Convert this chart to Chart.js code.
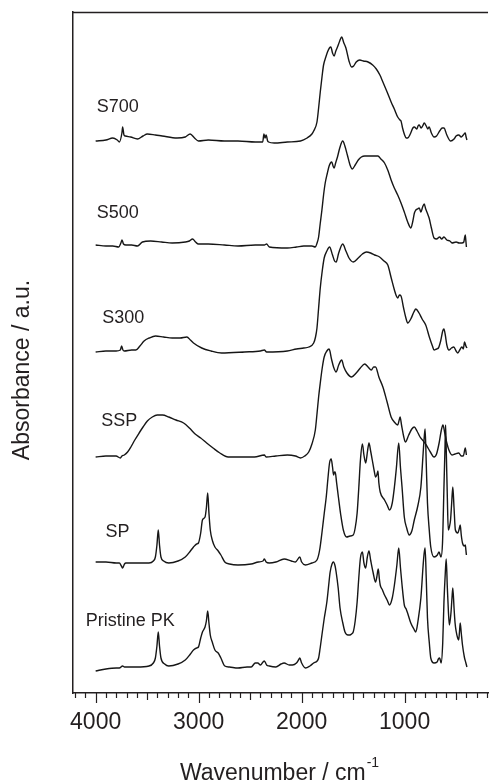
<!DOCTYPE html>
<html>
<head>
<meta charset="utf-8">
<script src="https://cdn.jsdelivr.net/npm/chart.js@4.4.1/dist/chart.umd.min.js"></script>
<style>
  body { margin: 0; background: #fff; }
  canvas { display: block; }
</style>
</head>
<body>
<canvas id="myChart" width="493" height="782"></canvas>
<script>
// FTIR spectra, stacked (absorbance a.u. incl. offset), wavenumber in cm-1
const s700 = [[4000,5.52],[3900,5.53],[3834,5.55],[3790,5.53],[3770,5.51],[3745,5.60],[3738,5.66],[3725,5.58],[3712,5.57],[3660,5.56],[3594,5.54],[3540,5.57],[3498,5.59],[3420,5.58],[3354,5.57],[3210,5.55],[3130,5.56],[3082,5.59],[3040,5.55],[3002,5.52],[2906,5.53],[2750,5.52],[2618,5.52],[2450,5.51],[2378,5.51],[2366,5.59],[2355,5.55],[2345,5.58],[2330,5.52],[2321,5.51],[2266,5.50],[2139,5.51],[2011,5.52],[1947,5.55],[1900,5.59],[1883,5.62],[1851,5.71],[1835,5.85],[1819,6.01],[1800,6.18],[1787,6.28],[1765,6.36],[1749,6.41],[1730,6.45],[1716,6.46],[1700,6.40],[1684,6.37],[1668,6.42],[1652,6.46],[1630,6.52],[1611,6.56],[1590,6.50],[1570,6.45],[1540,6.32],[1515,6.26],[1495,6.27],[1470,6.31],[1435,6.33],[1400,6.32],[1355,6.31],[1310,6.28],[1275,6.24],[1240,6.18],[1211,6.11],[1170,6.01],[1131,5.91],[1100,5.84],[1067,5.76],[1045,5.73],[1035,5.72],[1020,5.65],[1000,5.58],[985,5.55],[970,5.55],[945,5.59],[920,5.65],[906,5.66],[880,5.64],[870,5.67],[858,5.68],[840,5.65],[825,5.67],[810,5.70],[790,5.67],[775,5.64],[762,5.66],[740,5.60],[714,5.56],[690,5.57],[660,5.62],[635,5.65],[618,5.65],[590,5.58],[553,5.52],[520,5.54],[500,5.57],[474,5.58],[450,5.56],[430,5.58],[411,5.60],[405,5.57],[395,5.53]];

const s500 = [[4000,4.48],[3900,4.47],[3834,4.47],[3776,4.46],[3755,4.50],[3744,4.53],[3730,4.49],[3706,4.48],[3650,4.48],[3594,4.47],[3546,4.51],[3466,4.52],[3360,4.51],[3257,4.50],[3129,4.51],[3090,4.52],[3059,4.54],[3030,4.51],[3002,4.49],[2906,4.49],[2750,4.48],[2618,4.47],[2450,4.48],[2362,4.48],[2340,4.49],[2314,4.46],[2139,4.45],[2050,4.46],[1979,4.47],[1900,4.47],[1867,4.46],[1850,4.50],[1835,4.56],[1820,4.69],[1803,4.83],[1787,4.98],[1771,5.10],[1750,5.20],[1733,5.27],[1720,5.30],[1707,5.31],[1695,5.27],[1684,5.25],[1670,5.30],[1652,5.36],[1630,5.45],[1601,5.52],[1580,5.47],[1556,5.38],[1530,5.28],[1508,5.24],[1480,5.28],[1450,5.33],[1420,5.36],[1387,5.37],[1320,5.37],[1259,5.37],[1230,5.34],[1195,5.30],[1160,5.22],[1131,5.13],[1100,5.05],[1067,4.98],[1035,4.90],[1003,4.81],[970,4.71],[939,4.65],[920,4.72],[905,4.80],[891,4.83],[875,4.84],[858,4.85],[842,4.81],[825,4.86],[810,4.89],[795,4.84],[780,4.80],[762,4.75],[740,4.65],[714,4.55],[690,4.54],[660,4.56],[640,4.54],[618,4.56],[590,4.53],[560,4.52],[540,4.50],[500,4.51],[470,4.50],[444,4.50],[425,4.51],[418,4.55],[411,4.58],[405,4.52],[400,4.46]];

const s300 = [[4000,3.41],[3900,3.42],[3802,3.42],[3760,3.43],[3748,3.47],[3735,3.43],[3722,3.42],[3650,3.43],[3610,3.43],[3570,3.47],[3530,3.52],[3480,3.55],[3418,3.57],[3340,3.56],[3257,3.55],[3180,3.55],[3114,3.56],[3080,3.53],[3050,3.50],[2970,3.45],[2880,3.42],[2778,3.40],[2554,3.41],[2400,3.42],[2362,3.43],[2340,3.41],[2139,3.42],[2050,3.44],[1979,3.45],[1930,3.46],[1883,3.50],[1865,3.56],[1851,3.65],[1835,3.85],[1819,4.05],[1800,4.22],[1781,4.35],[1755,4.42],[1729,4.46],[1700,4.38],[1680,4.32],[1665,4.31],[1640,4.40],[1601,4.49],[1570,4.42],[1540,4.35],[1499,4.31],[1450,4.35],[1410,4.39],[1371,4.41],[1330,4.40],[1291,4.38],[1243,4.36],[1200,4.32],[1163,4.28],[1130,4.15],[1099,4.03],[1080,3.97],[1067,3.95],[1050,3.98],[1035,3.97],[1010,3.85],[990,3.76],[970,3.70],[940,3.74],[910,3.81],[891,3.84],[860,3.80],[830,3.74],[795,3.68],[760,3.56],[730,3.47],[714,3.43],[690,3.44],[672,3.45],[650,3.52],[630,3.62],[618,3.64],[605,3.58],[590,3.48],[570,3.43],[545,3.45],[522,3.46],[500,3.42],[483,3.40],[465,3.43],[444,3.46],[430,3.44],[418,3.51],[405,3.47],[395,3.45]];

const ssp = [[4000,2.36],[3900,2.37],[3802,2.37],[3760,2.35],[3745,2.37],[3722,2.38],[3690,2.41],[3658,2.46],[3620,2.53],[3578,2.60],[3540,2.66],[3498,2.72],[3450,2.76],[3402,2.78],[3350,2.78],[3290,2.76],[3220,2.73],[3146,2.70],[3090,2.65],[3034,2.59],[2980,2.55],[2922,2.50],[2860,2.45],[2794,2.40],[2714,2.36],[2600,2.36],[2458,2.36],[2362,2.38],[2345,2.36],[2250,2.37],[2139,2.38],[2060,2.37],[2011,2.35],[1970,2.37],[1931,2.41],[1900,2.49],[1867,2.63],[1850,2.80],[1835,2.96],[1819,3.10],[1800,3.25],[1781,3.36],[1755,3.42],[1733,3.44],[1710,3.34],[1690,3.26],[1665,3.21],[1640,3.28],[1611,3.33],[1590,3.26],[1560,3.20],[1515,3.16],[1470,3.20],[1430,3.25],[1387,3.29],[1355,3.26],[1323,3.23],[1300,3.26],[1282,3.26],[1250,3.16],[1211,3.06],[1170,2.91],[1131,2.76],[1100,2.71],[1067,2.68],[1055,2.72],[1044,2.76],[1030,2.68],[1010,2.57],[993,2.51],[960,2.58],[930,2.64],[906,2.66],[880,2.62],[850,2.56],[826,2.53],[790,2.48],[750,2.41],[714,2.36],[690,2.39],[665,2.50],[645,2.62],[628,2.68],[610,2.60],[590,2.50],[570,2.43],[540,2.38],[510,2.39],[474,2.40],[450,2.37],[430,2.37],[411,2.45],[400,2.38]];

const sp = [[4000,1.31],[3900,1.31],[3800,1.30],[3770,1.30],[3750,1.27],[3738,1.25],[3720,1.29],[3706,1.30],[3600,1.30],[3482,1.30],[3440,1.32],[3420,1.36],[3405,1.48],[3392,1.63],[3380,1.48],[3366,1.36],[3340,1.32],[3290,1.30],[3200,1.32],[3130,1.36],[3080,1.42],[3050,1.46],[3020,1.49],[3002,1.50],[2980,1.60],[2963,1.73],[2938,1.76],[2925,1.85],[2912,2.00],[2900,1.80],[2887,1.63],[2865,1.52],[2842,1.46],[2810,1.42],[2784,1.38],[2746,1.31],[2700,1.29],[2618,1.28],[2490,1.29],[2420,1.31],[2375,1.32],[2362,1.34],[2345,1.31],[2314,1.30],[2250,1.31],[2170,1.34],[2100,1.32],[2060,1.31],[2018,1.36],[2000,1.31],[1963,1.28],[1900,1.30],[1851,1.33],[1825,1.43],[1803,1.60],[1780,1.80],[1761,1.96],[1745,2.14],[1729,2.30],[1713,2.34],[1700,2.26],[1690,2.18],[1680,2.21],[1674,2.21],[1660,2.10],[1643,1.96],[1620,1.78],[1595,1.63],[1563,1.56],[1530,1.57],[1499,1.58],[1480,1.65],[1461,1.80],[1445,2.05],[1429,2.33],[1410,2.49],[1395,2.38],[1378,2.30],[1360,2.42],[1346,2.50],[1330,2.42],[1314,2.33],[1295,2.22],[1282,2.16],[1270,2.18],[1259,2.22],[1250,2.10],[1237,2.01],[1195,1.93],[1170,1.88],[1147,1.83],[1120,1.90],[1099,2.06],[1080,2.25],[1057,2.50],[1040,2.25],[1025,2.06],[1003,1.76],[980,1.65],[955,1.58],[930,1.62],[906,1.73],[870,1.88],[842,2.06],[820,2.40],[810,2.55],[801,2.64],[790,2.30],[778,1.90],[760,1.62],[746,1.46],[714,1.36],[682,1.38],[666,1.41],[647,1.36],[632,1.50],[618,2.06],[608,2.45],[602,2.68],[595,2.40],[585,1.95],[576,1.63],[565,1.66],[554,1.73],[543,1.90],[532,2.06],[520,1.85],[507,1.63],[483,1.60],[470,1.64],[460,1.68],[450,1.58],[438,1.50],[420,1.47],[411,1.48],[405,1.43],[400,1.38]];

const pristinePK = [[4000,0.22],[3900,0.24],[3800,0.25],[3770,0.25],[3738,0.27],[3720,0.26],[3600,0.26],[3482,0.27],[3440,0.30],[3420,0.35],[3405,0.47],[3392,0.61],[3380,0.47],[3366,0.35],[3330,0.29],[3290,0.27],[3200,0.29],[3130,0.33],[3080,0.39],[3050,0.43],[3020,0.45],[3002,0.46],[2980,0.55],[2963,0.61],[2938,0.66],[2925,0.72],[2912,0.82],[2900,0.70],[2887,0.58],[2865,0.50],[2842,0.43],[2810,0.40],[2784,0.35],[2746,0.27],[2700,0.26],[2618,0.25],[2530,0.26],[2490,0.26],[2450,0.30],[2426,0.30],[2400,0.28],[2375,0.31],[2362,0.32],[2340,0.28],[2314,0.27],[2250,0.26],[2200,0.29],[2170,0.30],[2120,0.28],[2090,0.28],[2050,0.30],[2030,0.33],[2018,0.35],[2000,0.30],[1963,0.25],[1920,0.27],[1883,0.30],[1850,0.32],[1835,0.35],[1820,0.45],[1803,0.58],[1780,0.75],[1755,0.91],[1740,1.05],[1723,1.21],[1705,1.29],[1691,1.31],[1675,1.27],[1665,1.21],[1645,1.05],[1627,0.85],[1600,0.70],[1579,0.61],[1550,0.58],[1531,0.58],[1515,0.59],[1499,0.61],[1480,0.72],[1461,0.91],[1445,1.15],[1429,1.35],[1410,1.41],[1395,1.30],[1378,1.25],[1362,1.36],[1346,1.42],[1330,1.33],[1307,1.21],[1282,1.11],[1270,1.16],[1256,1.24],[1245,1.14],[1237,1.08],[1215,1.03],[1195,0.98],[1170,0.93],[1147,0.88],[1120,0.95],[1099,1.08],[1075,1.28],[1057,1.45],[1040,1.25],[1025,1.08],[1003,0.88],[985,0.84],[971,0.80],[940,0.70],[910,0.64],[891,0.61],[870,0.72],[842,0.95],[820,1.28],[810,1.40],[801,1.45],[790,1.15],[778,0.75],[760,0.50],[746,0.35],[714,0.30],[685,0.31],[672,0.34],[660,0.35],[645,0.30],[630,0.50],[618,0.91],[605,1.20],[596,1.34],[585,1.05],[575,0.82],[565,0.68],[550,0.80],[540,0.95],[532,1.05],[520,0.85],[510,0.70],[500,0.62],[485,0.55],[475,0.53],[468,0.60],[460,0.70],[450,0.60],[438,0.48],[420,0.36],[405,0.30],[395,0.26]];

const seriesNames = ['S700', 'S500', 'S300', 'SSP', 'SP', 'Pristine PK'];
const seriesData = [s700, s500, s300, ssp, sp, pristinePK];
// where each name sits (wavenumber, a.u.)
const nameAt = [[3990,5.86],[3990,4.80],[3936,3.75],[3945,2.72],[3904,1.61],[4096,0.72]];
const xTickLabels = [4000, 3000, 2000, 1000];

const ink = '#231f20';
const fontFam = '"Liberation Sans", Arial, Helvetica, sans-serif';

// tick marks, frame, curve names and axis titles
const decor = {
    id: 'decor',
    afterDraw(chart) {
        const c = chart.ctx;
        const a = chart.chartArea;
        const xs = chart.scales.x, ys = chart.scales.y;
        c.save();
        c.strokeStyle = ink;
        c.lineWidth = 1.5;
        c.beginPath();
        c.moveTo(a.left, a.top + 0.5);
        c.lineTo(a.right, a.top + 0.5);
        c.stroke();

        c.lineWidth = 1.2;
        xs.ticks.forEach(t => {
            const px = Math.round(xs.getPixelForValue(t.value)) + 0.5;
            const len = t.value % 1000 === 0 ? 10 : (t.value % 500 === 0 ? 7 : 5);
            c.beginPath();
            c.moveTo(px, a.bottom);
            c.lineTo(px, a.bottom + len);
            c.stroke();
        });

        c.fillStyle = ink;
        c.textBaseline = 'middle';
        c.textAlign = 'left';
        c.font = '18px ' + fontFam;
        seriesNames.forEach((n, i) => {
            c.fillText(n, xs.getPixelForValue(nameAt[i][0]), ys.getPixelForValue(nameAt[i][1]));
        });

        // y title
        c.font = '23px ' + fontFam;
        c.save();
        c.translate(23, 370);
        c.rotate(-Math.PI / 2);
        c.textAlign = 'center';
        c.fillText('Absorbance / a.u.', 0, 0);
        c.restore();

        // x title with superscript
        const main = 'Wavenumber / cm', sup = '-1';
        c.font = '23px ' + fontFam;
        const w1 = c.measureText(main).width;
        c.font = '14px ' + fontFam;
        const w2 = c.measureText(sup).width;
        const x0 = (a.left + a.right) / 2 - 1.5 - (w1 + w2) / 2;
        c.textBaseline = 'alphabetic';
        c.font = '23px ' + fontFam;
        c.fillText(main, x0, 780);
        c.font = '14px ' + fontFam;
        c.fillText(sup, x0 + w1 + 1, 767);
        c.restore();
    }
};

const ctx = document.getElementById('myChart').getContext('2d');

const chart = new Chart(ctx, {
    type: 'scatter',
    data: {
        datasets: seriesData.map((d, i) => ({
            label: seriesNames[i],
            data: d,
            showLine: true,
            borderColor: '#161616',
            borderWidth: 1.4,
            pointRadius: 0,
            cubicInterpolationMode: 'monotone',
            fill: false
        }))
    },
    options: {
        responsive: false,
        animation: false,
        devicePixelRatio: 1,
        layout: { padding: { top: 12, right: 0, left: 0, bottom: 0 } },
        plugins: {
            legend: { display: false },
            tooltip: { enabled: false }
        },
        scales: {
            x: {
                type: 'linear',
                reverse: true,
                min: 190,
                max: 4220,
                afterBuildTicks: s => {
                    const t = [];
                    for (let v = 4200; v >= 200; v -= 100) t.push({ value: v });
                    s.ticks = t;
                },
                afterFit: s => { s.height = 89; },
                ticks: {
                    autoSkip: false,
                    maxRotation: 0,
                    minRotation: 0,
                    padding: 6,
                    color: ink,
                    font: { size: 23, family: fontFam },
                    callback: v => xTickLabels.includes(v) ? String(v) : ''
                },
                grid: { display: true, drawOnChartArea: false, drawTicks: true, tickLength: 10, color: 'rgba(0,0,0,0)' },
                border: { display: true, color: ink, width: 1.5 }
            },
            y: {
                min: 0,
                max: 6.81,
                afterFit: s => { s.width = 73; },
                ticks: { display: false },
                grid: { display: false },
                border: { display: true, color: ink, width: 1.5 }
            }
        }
    },
    plugins: [decor]
});
</script>
</body>
</html>
